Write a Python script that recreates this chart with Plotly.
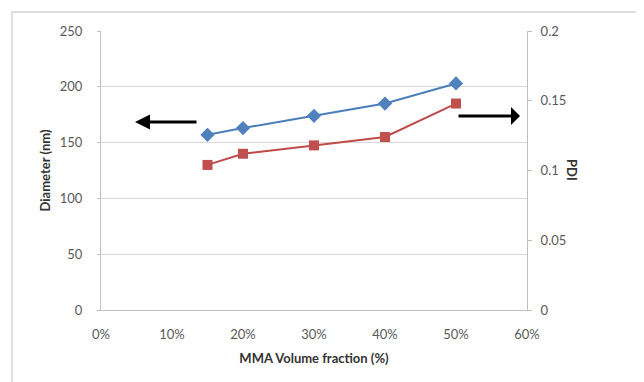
import plotly.graph_objects as go

x_frac = [0.15, 0.20, 0.30, 0.40, 0.50]
diameter = [157, 163, 174, 185, 203]
pdi = [0.104, 0.112, 0.118, 0.124, 0.148]

x_ticks = [0, 0.1, 0.2, 0.3, 0.4, 0.5, 0.6]
x_ticklabels = ["0%", "10%", "20%", "30%", "40%", "50%", "60%"]
y1_ticks = [0, 50, 100, 150, 200, 250]
y2_ticks = [0, 0.05, 0.1, 0.15, 0.2]
y2_ticklabels = ["0", "0.05", "0.1", "0.15", "0.2"]

OFF = 8  # page body margin
W, H = 644 - OFF, 382 - OFF
L, R, T, B = 101 - OFF, 527 - OFF, 31 - OFF, 310 - OFF


def px(xp):
    return (xp - OFF - L) / (R - L)


def py(yp):
    return (B - (yp - OFF)) / (B - T)


font_family = "Lato, Open Sans, Liberation Sans, Arial"
tick_color = "#595959"
title_color = "#333333"

fig = go.Figure()
fig.add_trace(go.Scatter(
    x=x_frac, y=diameter, mode="lines+markers", name="Diameter",
    line=dict(color="#4a7ebb", width=2),
    marker=dict(symbol="diamond", size=11, color="#4f81bd"),
    yaxis="y", showlegend=False))
fig.add_trace(go.Scatter(
    x=x_frac, y=pdi, mode="lines+markers", name="PDI",
    line=dict(color="#be4b48", width=2),
    marker=dict(symbol="square", size=10, color="#c0504d"),
    yaxis="y2", showlegend=False))

fig.update_layout(
    width=W, height=H,
    margin=dict(l=L, r=W - R, t=T, b=H - B, pad=0, autoexpand=False),
    paper_bgcolor="white", plot_bgcolor="white",
    font=dict(family=font_family, size=13, color=tick_color),
    xaxis=dict(
        range=[0, 0.6], tickvals=x_ticks, ticktext=x_ticklabels,
        showgrid=False, showline=True, linecolor="#bfbfbf", linewidth=1,
        ticks="", zeroline=False, ticklabelstandoff=12,
        tickfont=dict(size=13, color=tick_color),
        title=dict(text="<b>MMA Volume fraction (%)</b>",
                   font=dict(size=13, color=title_color, weight=900), standoff=13),
    ),
    yaxis=dict(
        range=[0, 250], tickvals=y1_ticks,
        showgrid=True, gridcolor="#d9d9d9", gridwidth=1,
        showline=True, linecolor="#bfbfbf", linewidth=1,
        ticks="outside", ticklen=3, tickcolor="#bfbfbf",
        zeroline=False, ticklabelstandoff=12,
        tickfont=dict(size=13, color=tick_color),
        title=dict(text="<b>Diameter (nm)</b>",
                   font=dict(size=13, color=title_color, weight=900), standoff=6),
    ),
    yaxis2=dict(
        range=[0, 0.2], tickvals=y2_ticks, ticktext=y2_ticklabels,
        overlaying="y", side="right",
        showgrid=False, showline=True, linecolor="#bfbfbf", linewidth=1,
        ticks="outside", ticklen=4, tickcolor="#bfbfbf",
        zeroline=False, ticklabelstandoff=6,
        tickfont=dict(size=13, color=tick_color),
    ),
    annotations=[
        dict(xref="paper", yref="paper", x=px(582), y=py(170),
             text="<b>PDI</b>", textangle=90, showarrow=False,
             font=dict(size=13, color=title_color, weight=900)),
        dict(xref="paper", yref="paper", x=px(135), y=py(122),
             ax=63, ay=0, text="", showarrow=True,
             arrowhead=2, arrowsize=1, arrowwidth=3, arrowcolor="black"),
        dict(xref="paper", yref="paper", x=px(520), y=py(116),
             ax=-63, ay=0, text="", showarrow=True,
             arrowhead=1, arrowsize=1, arrowwidth=3, arrowcolor="black"),
    ],
    shapes=[
        dict(type="line", xref="paper", yref="paper",
             x0=px(12), x1=px(12), y0=py(12), y1=py(382),
             line=dict(color="#bfbfbf", width=1)),
        dict(type="line", xref="paper", yref="paper",
             x0=px(12), x1=px(644), y0=py(12), y1=py(12),
             line=dict(color="#bfbfbf", width=1)),
    ],
)

fig.write_html("out.html")
